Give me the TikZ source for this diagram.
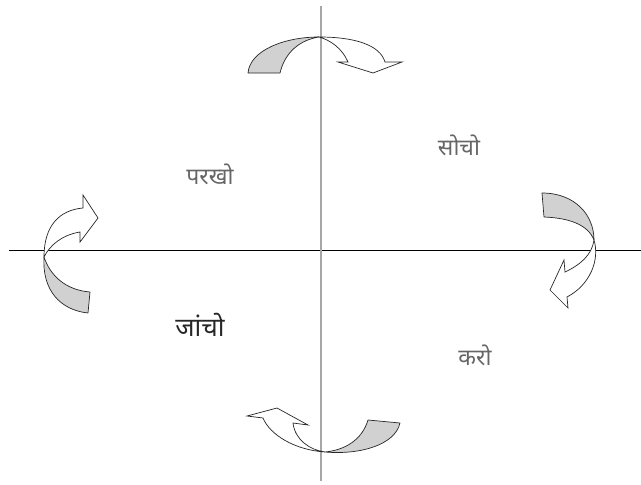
\documentclass[tikz,border=0pt]{standalone}
\usepackage{fontspec}
\newfontfamily\devfont[Script=Devanagari]{Noto Sans}
\definecolor{shade}{gray}{0.82}
\definecolor{txt}{gray}{0.40}
\tikzset{
  band/.style={draw=black!85,line width=0.7pt,fill=shade,line join=round},
  arrowbody/.style={draw=black!85,line width=0.7pt,fill=white,line join=miter},
  lbl/.style={font=\devfont\fontsize{23}{27}\selectfont,text=txt,inner sep=0pt},
  axisv/.style={draw=gray!70,line width=1.2pt},
  axish/.style={draw=black,line width=0.8pt}
}
\begin{document}
\begin{tikzpicture}[x=1pt,y=-1pt]
\useasboundingbox (0,0) rectangle (641,485);
% axes
\coordinate (hl) at (9,250);
\coordinate (hr) at (641,250);
\coordinate (vt) at (321,6);
\coordinate (vb) at (321,481);
\draw[axish] (hl) -- (hr);
\draw[axisv] (vt) -- (vb);
% top arrow
\draw[band] (248,73) .. controls (250,50) and (285,37) .. (319,37)
  .. controls (300,40) and (285,52) .. (280,73) -- cycle;
\draw[arrowbody] (319,37) .. controls (355,37) and (380,45) .. (385,62)
  -- (402,62) -- (373,73) -- (338,62) -- (348,62)
  .. controls (342,48) and (330,40) .. (319,37) -- cycle;
% right arrow
\draw[band] (542,193) .. controls (575,193) and (594,215) .. (594,240)
  .. controls (588,225) and (570,218) .. (544,217) -- cycle;
\draw[arrowbody] (594,240) .. controls (600,260) and (590,285) .. (567,297)
  -- (568,308) -- (550,290) -- (564,260) -- (565,272)
  .. controls (580,265) and (592,255) .. (594,240) -- cycle;
% left arrow
\draw[arrowbody] (44,257) .. controls (44,225) and (60,210) .. (83,208)
  -- (83,195) -- (98,218) -- (80,242) -- (80,232)
  .. controls (62,235) and (50,245) .. (44,257) -- cycle;
\draw[band] (44,257) .. controls (42,290) and (60,310) .. (88,313)
  -- (90,292) .. controls (65,290) and (50,275) .. (44,257) -- cycle;
% bottom arrow
\draw[arrowbody] (325,452) .. controls (295,450) and (270,435) .. (263,418)
  -- (247,416) -- (277,408) -- (308,425) -- (293,423)
  .. controls (295,440) and (310,450) .. (325,452) -- cycle;
\draw[band] (400,423) .. controls (395,445) and (360,455) .. (325,452)
  .. controls (345,450) and (362,440) .. (368,420) -- cycle;
% labels
\node[lbl] (parakho) at (210,174) {परखो};
\node[lbl] (socho) at (459,145) {सोचो};
\node[lbl,font=\devfont\fontsize{26}{30}\selectfont,text=black!85] (jancho) at (200,325) {जांचो};
\node[lbl] (karo) at (475,355) {करो};
\end{tikzpicture}
\end{document}
